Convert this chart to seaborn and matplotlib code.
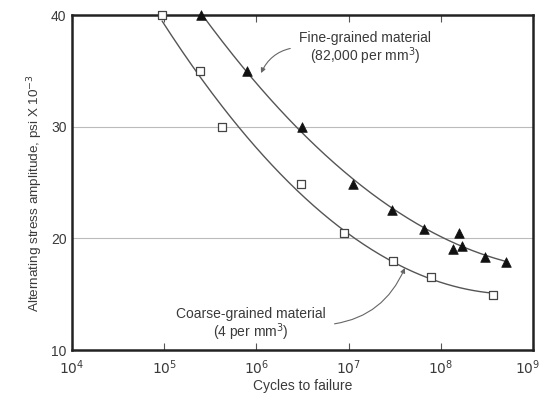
import numpy as np
import pandas as pd
import matplotlib
matplotlib.use("Agg")
import matplotlib.pyplot as plt
import matplotlib.transforms as mtransforms
import seaborn as sns

# ---- data ----
coarse_cycles = [9.5e4, 2.45e5, 4.2e5, 3.05e6, 8.9e6, 3.0e7, 7.8e7, 3.7e8]
coarse_stress = [40.0, 35.0, 30.0, 24.9, 20.5, 18.0, 16.5, 14.9]
fine_cycles = [2.5e5, 7.9e5, 3.1e6, 1.12e7, 2.96e7, 6.6e7, 1.57e8, 1.36e8, 1.7e8, 3.0e8, 5.1e8]
fine_stress = [40.0, 35.0, 30.0, 24.9, 22.5, 20.8, 20.5, 19.05, 19.3, 18.3, 17.9]
x_ticks = [1e4, 1e5, 1e6, 1e7, 1e8, 1e9]
y_ticks = [10, 20, 30, 40]

sns.set_style("white")
plt.rcParams['font.family'] = ['Liberation Sans', 'DejaVu Sans']

ink = "#3a3a3a"
fig = plt.figure(figsize=(5.4, 3.98), dpi=100)
ax = fig.add_axes([72/540, 1-350/398, (533-72)/540, (350-15)/398])

def fit_curve(xs, ys, deg):
    lx = np.log10(xs)
    c = np.polyfit(lx, ys, deg)
    g = np.linspace(lx.min(), lx.max(), 200)
    return pd.DataFrame({"x": 10**g, "y": np.polyval(c, g)})

cc = fit_curve(np.array(coarse_cycles), np.array(coarse_stress), 2)
fc = fit_curve(np.array(fine_cycles), np.array(fine_stress), 2)
sns.lineplot(data=cc, x="x", y="y", ax=ax, color="#555555", lw=1.0, sort=False)
sns.lineplot(data=fc, x="x", y="y", ax=ax, color="#555555", lw=1.0, sort=False)

cd = pd.DataFrame({"x": coarse_cycles, "y": coarse_stress})
fd = pd.DataFrame({"x": fine_cycles, "y": fine_stress})
sns.scatterplot(data=cd, x="x", y="y", ax=ax, marker="s", s=28, facecolor="white",
                edgecolor="#444444", linewidth=0.9, zorder=5, clip_on=False)
sns.scatterplot(data=fd, x="x", y="y", ax=ax, marker="^", s=48, color="#111111",
                edgecolor="#111111", linewidth=0.5, zorder=5, clip_on=False)

ax.set_xscale("log")
ax.set_xlim(1e4, 1e9)
ax.set_ylim(10, 40)
ax.set_xticks(x_ticks)
ax.set_xticklabels([f"$10^{{{int(np.log10(v))}}}$" for v in x_ticks])
ax.set_yticks(y_ticks)
ax.set_yticklabels([str(v) for v in y_ticks])
ax.minorticks_off()
ax.tick_params(axis="x", direction="in", length=5, width=0.8, color="#555555",
               labelsize=10, labelcolor=ink, pad=6, top=True, bottom=True)
ax.tick_params(axis="y", length=0, labelsize=10, labelcolor=ink, pad=4)
last = ax.get_xticklabels()[-1]
last.set_transform(last.get_transform() +
                   mtransforms.ScaledTranslation(-5/100, 0, fig.dpi_scale_trans))

for y in [20, 30]:
    ax.axhline(y, color="#bbbbbb", lw=0.8, zorder=0)

for s in ax.spines.values():
    s.set_visible(True)
    s.set_color("#222222")
    s.set_linewidth(1.8)

ax.set_xlabel("Cycles to failure", fontsize=10, color=ink)
ax.xaxis.set_label_coords(0.5, -0.088)
ax.set_ylabel("Alternating stress amplitude, psi X 10$^{-3}$", fontsize=9.7,
              color=ink)
ax.yaxis.set_label_coords(-0.059, 0.47)

ax.annotate("Fine-grained material\n(82,000 per mm$^3$)",
            xy=(10**6.05, 34.8), xycoords="data",
            xytext=(10**7.178, 36.95), textcoords="data",
            ha="center", va="center", fontsize=10, color=ink, linespacing=1.0,
            arrowprops=dict(arrowstyle="-|>", color="#666666", lw=0.8,
                            connectionstyle="arc3,rad=0.3",
                            shrinkA=4, shrinkB=0, mutation_scale=7,
                            relpos=(0.0, 0.55)))
ax.annotate("Coarse-grained material\n(4 per mm$^3$)",
            xy=(10**7.61, 17.35), xycoords="data",
            xytext=(10**5.94, 12.25), textcoords="data",
            ha="center", va="center", fontsize=10, color=ink, linespacing=1.0,
            arrowprops=dict(arrowstyle="-|>", color="#666666", lw=0.8,
                            connectionstyle="arc3,rad=0.3",
                            shrinkA=4, shrinkB=0, mutation_scale=7,
                            relpos=(1.0, 0.5)))

fig.savefig("out.png", dpi=100)
